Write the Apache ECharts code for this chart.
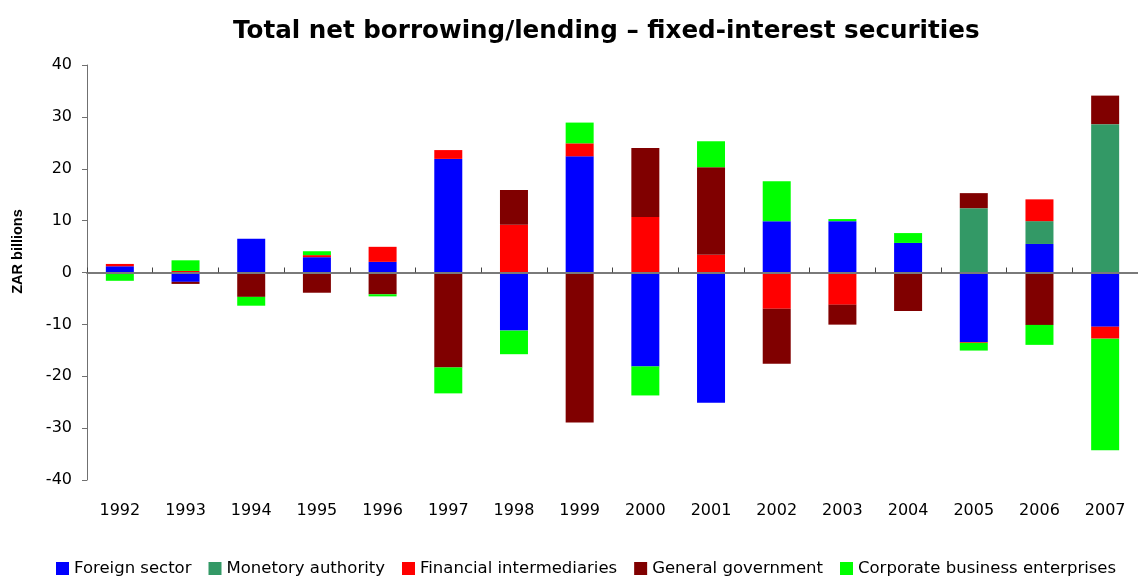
<!DOCTYPE html>
<html>
<head>
<meta charset="utf-8">
<script src="https://cdn.jsdelivr.net/npm/echarts@6/dist/echarts.min.js"></script>
<style>
  html, body { margin: 0; padding: 0; background: #fff; }
  #chart { width: 1138px; height: 578px; }
</style>
</head>
<body>
<div id="chart"></div>
<script>
// ---- data ----
const years = ['1992','1993','1994','1995','1996','1997','1998','1999','2000','2001','2002','2003','2004','2005','2006','2007'];
const seriesNames = ['Foreign sector','Monetory authority','Financial intermediaries','General government','Corporate business enterprises'];
const foreignSector = [1.2, -1.8, 6.5, 2.95, 2.05, 21.9, -11.2, 22.4, -18.1, -25.1, 9.9, 9.9, 5.7, -13.4, 5.5, -10.45];
const monetaryAuthority = [0, 0, 0, 0, 0, 0, 0, 0, 0, 0, 0, 0, 0, 12.4, 4.4, 28.6];
const financialIntermediaries = [0.45, 0.3, 0, 0.4, 2.9, 1.7, 9.2, 2.5, 10.7, 3.4, -7.0, -6.2, 0, -0.15, 4.2, -2.3];
const generalGovernment = [0, -0.4, -4.7, -3.9, -4.2, -18.3, 6.7, -28.9, 13.3, 16.9, -10.6, -3.85, -7.4, 2.9, -10.1, 5.5];
const corporateBusiness = [-1.6, 2.05, -1.7, 0.75, -0.4, -5.0, -4.55, 4.0, -5.6, 5.0, 7.7, 0.4, 1.9, -1.5, -3.85, -21.5];
const yTicks = { min: -40, max: 40, interval: 10 };

const colors = ['#0000FF', '#339966', '#FF0000', '#800000', '#00FF00'];
const values = [foreignSector, monetaryAuthority, financialIntermediaries, generalGovernment, corporateBusiness];

const chart = echarts.init(document.getElementById('chart'));
const baseFont = 'DejaVu Sans';

chart.setOption({
  backgroundColor: '#ffffff',
  animation: false,
  title: {
    text: 'Total net borrowing/lending \u2013 fixed-interest securities',
    left: 233,
    top: 19,
    padding: 0,
    textStyle: { fontFamily: baseFont, fontWeight: 'bold', fontSize: 24.6, color: '#000' }
  },
  legend: {
    data: seriesNames,
    left: 56,
    top: 560,
    padding: 0,
    itemWidth: 13,
    itemHeight: 13,
    itemGap: 17,
    icon: 'rect',
    textStyle: { fontFamily: baseFont, fontSize: 16.5, color: '#000' }
  },
  grid: { left: 87, top: 65, width: 1056, height: 415, containLabel: false },
  xAxis: [
    {
      type: 'category',
      data: years,
      position: 'bottom',
      axisLine: { show: false, onZero: false },
      axisTick: { show: false },
      axisLabel: { fontFamily: baseFont, fontSize: 16, color: '#000', margin: 23 },
      splitLine: { show: false }
    },
    {
      type: 'category',
      data: years,
      position: 'top',
      z: 5,
      axisLine: { show: true, onZero: true, lineStyle: { color: '#7a7a7a', width: 2 } },
      axisTick: { show: true, inside: false, length: 5, lineStyle: { color: '#444', width: 1 } },
      axisLabel: { show: false },
      splitLine: { show: false }
    }
  ],
  yAxis: {
    type: 'value',
    min: yTicks.min,
    max: yTicks.max,
    interval: yTicks.interval,
    name: 'ZAR billions',
    nameLocation: 'middle',
    nameRotate: 90,
    nameGap: 62,
    nameTextStyle: { fontFamily: 'Liberation Sans', fontWeight: 'bold', fontSize: 14.5, color: '#000', padding: [0, 0, 0, 42] },
    axisLine: { show: true, lineStyle: { color: '#707070', width: 1 } },
    axisTick: { show: true, inside: false, length: 5, lineStyle: { color: '#707070' } },
    axisLabel: { fontFamily: baseFont, fontSize: 16, color: '#000', margin: 15 },
    splitLine: { show: false }
  },
  series: seriesNames.map((name, i) => ({
    name: name,
    type: 'bar',
    stack: 'total',
    barWidth: 28,
    xAxisIndex: 0,
    itemStyle: { color: colors[i] },
    data: values[i]
  }))
});
</script>
</body>
</html>
